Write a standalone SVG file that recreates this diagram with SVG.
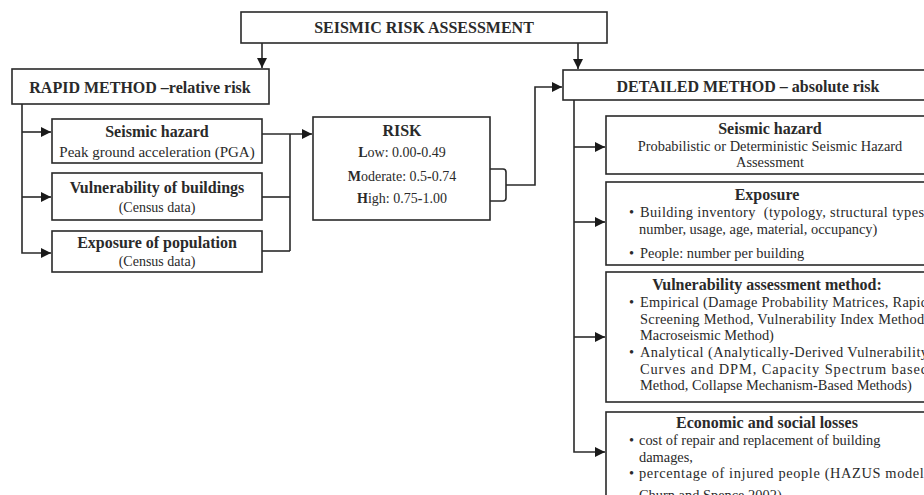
<svg xmlns="http://www.w3.org/2000/svg" width="924" height="495" viewBox="0 0 924 495">
<defs>
<marker id="arr" markerUnits="userSpaceOnUse" markerWidth="11" markerHeight="11" refX="10" refY="5" orient="auto">
<path d="M0,0 L10,5 L0,10 z" fill="#1a1a1a"/>
</marker>
<style>
.box{fill:#fff;stroke:#2a2a2a;stroke-width:1.6}
.ln{fill:none;stroke:#2a2a2a;stroke-width:1.6}
text{font-family:"Liberation Serif","Times New Roman",serif;fill:#2a2a2a}
.h{font-weight:bold;font-size:16px}
.r{font-size:15px}
.s{font-size:14px}
.d{font-size:14.4px}
.c{text-anchor:middle}
.b{font-weight:bold}
</style>
</defs>
<rect width="924" height="495" fill="#fff"/>
<g id="connectors">
<path class="ln" d="M262,43 V68" marker-end="url(#arr)"/>
<path class="ln" d="M578,43 V69" marker-end="url(#arr)"/>
<path class="ln" d="M22,104 V253 H51" marker-end="url(#arr)"/>
<path class="ln" d="M22,132 H51" marker-end="url(#arr)"/>
<path class="ln" d="M22,197 H51" marker-end="url(#arr)"/>
<path class="ln" d="M262,134 H312" marker-end="url(#arr)"/>
<path class="ln" d="M290,134 V251"/>
<path class="ln" d="M262,197 H290"/>
<path class="ln" d="M262,251 H290"/>
<path class="ln" d="M490,169 H503 Q506,169 506,172 V198 Q506,201 503,201 H490"/>
<path class="ln" d="M506,185 H535 V87 H562" marker-end="url(#arr)"/>
<path class="ln" d="M574,100 V452 H605" marker-end="url(#arr)"/>
<path class="ln" d="M574,147 H605" marker-end="url(#arr)"/>
<path class="ln" d="M574,222 H605" marker-end="url(#arr)"/>
<path class="ln" d="M574,337 H605" marker-end="url(#arr)"/>
</g>
<g id="title">
<rect class="box" x="241" y="12" width="366" height="31"/>
<text class="h c" x="424" y="33">SEISMIC RISK ASSESSMENT</text>
</g>
<g id="rapid">
<rect class="box" x="12" y="69" width="257" height="35"/>
<text class="h c" x="140" y="93">RAPID METHOD –relative risk</text>
</g>
<g id="rapid-hazard">
<rect class="box" x="52" y="119" width="210" height="44"/>
<text class="h c" x="157" y="137">Seismic hazard</text>
<text class="r c" x="157" y="157">Peak ground acceleration (PGA)</text>
</g>
<g id="rapid-vulnerability">
<rect class="box" x="52" y="173" width="210" height="47"/>
<text class="h c" x="157" y="193">Vulnerability of buildings</text>
<text class="s c" x="157" y="212">(Census data)</text>
</g>
<g id="rapid-exposure">
<rect class="box" x="52" y="231" width="210" height="41"/>
<text class="h c" x="157" y="248">Exposure of population</text>
<text class="s c" x="157" y="266">(Census data)</text>
</g>
<g id="risk">
<rect class="box" x="313" y="117" width="177" height="103"/>
<text class="h c" x="402" y="136">RISK</text>
<text class="s c" x="402" y="157"><tspan class="b">L</tspan>ow: 0.00<tspan class="b">-</tspan>0.49</text>
<text class="s c" x="402" y="181"><tspan class="b">M</tspan>oderate: 0.5<tspan class="b">-</tspan>0.74</text>
<text class="s c" x="402" y="203"><tspan class="b">H</tspan>igh: 0.75<tspan class="b">-</tspan>1.00</text>
</g>
<g id="detailed">
<rect class="box" x="563" y="70" width="372" height="30"/>
<text class="h c" x="748" y="92">DETAILED METHOD – absolute risk</text>
</g>
<g id="detailed-hazard">
<rect class="box" x="606" y="116" width="330" height="58"/>
<text class="h c" x="770" y="134">Seismic hazard</text>
<text class="d c" x="770" y="151">Probabilistic or Deterministic Seismic Hazard</text>
<text class="d c" x="770" y="167">Assessment</text>
</g>
<g id="detailed-exposure">
<rect class="box" x="606" y="182" width="330" height="83"/>
<text class="h c" x="767" y="200">Exposure</text>
<text class="d" x="629" y="217">•</text>
<text class="d" x="640" y="217" textLength="288" lengthAdjust="spacing" xml:space="preserve">Building inventory  (typology, structural types,</text>
<text class="d" x="639" y="234">number, usage, age, material, occupancy)</text>
<text class="d" x="629" y="258">•</text>
<text class="d" x="640" y="258">People: number per building</text>
</g>
<g id="detailed-vulnerability">
<rect class="box" x="606" y="272" width="330" height="130"/>
<text class="h c" x="767" y="290">Vulnerability assessment method:</text>
<text class="d" x="629" y="307">•</text>
<text class="d" x="640" y="307" textLength="288" lengthAdjust="spacing">Empirical (Damage Probability Matrices, Rapid</text>
<text class="d" x="640" y="324" textLength="288" lengthAdjust="spacing">Screening Method, Vulnerability Index Method,</text>
<text class="d" x="640" y="340">Macroseismic Method)</text>
<text class="d" x="629" y="357">•</text>
<text class="d" x="640" y="357" textLength="288" lengthAdjust="spacing">Analytical (Analytically<tspan class="b">-</tspan>Derived Vulnerability</text>
<text class="d" x="640" y="374" textLength="288" lengthAdjust="spacing">Curves and DPM, Capacity Spectrum based</text>
<text class="d" x="640" y="390">Method, Collapse Mechanism<tspan class="b">-</tspan>Based Methods)</text>
</g>
<g id="detailed-losses">
<rect class="box" x="606" y="412" width="330" height="100"/>
<text class="h c" x="767" y="428">Economic and social losses</text>
<text class="d" x="629" y="445">•</text>
<text class="d" x="639" y="445">cost of repair and replacement of building</text>
<text class="d" x="639" y="462">damages,</text>
<text class="d" x="629" y="478">•</text>
<text class="d" x="639" y="478" textLength="289" lengthAdjust="spacing">percentage of injured people (HAZUS model,</text>
<text class="d" x="639" y="500">Churn and Spence 2002)</text>
</g>
</svg>
